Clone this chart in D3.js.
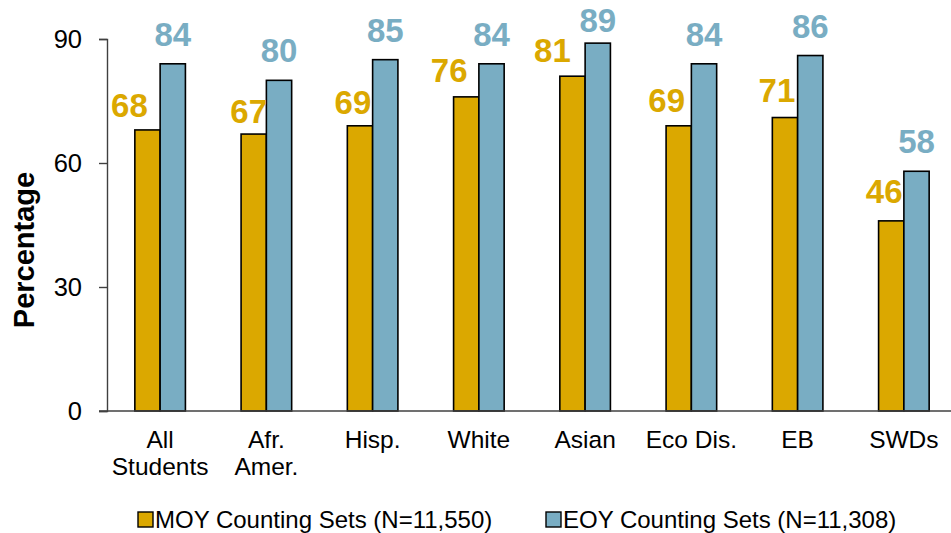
<!DOCTYPE html>
<html>
<head>
<meta charset="utf-8">
<script src="https://cdn.jsdelivr.net/npm/d3@7"></script>
<style>
  html, body { margin: 0; padding: 0; background: #fff; }
  svg { display: block; font-family: "Liberation Sans", Arial, sans-serif; }
</style>
</head>
<body>
<svg id="chart" width="951" height="533"></svg>
<script>
// ---- data ----
const categories = ["All Students", "Afr. Amer.", "Hisp.", "White", "Asian", "Eco Dis.", "EB", "SWDs"];
const categoryLines = [["All", "Students"], ["Afr.", "Amer."], ["Hisp."], ["White"], ["Asian"], ["Eco Dis."], ["EB"], ["SWDs"]];
const seriesNames = ["MOY Counting Sets (N=11,550)", "EOY Counting Sets (N=11,308)"];
const moyValues = [68, 67, 69, 76, 81, 69, 71, 46];
const eoyValues = [84, 80, 85, 84, 89, 84, 86, 58];
const yTicks = [0, 30, 60, 90];

// ---- layout (label nudges, pixels) ----
const moyLabelDx = [-18, -5, -7, -17, -20, -12, -8, -7];
const moyLabelGap = [13, 11, 12, 15, 14, 14, 16, 18];

const colors = ["#DBA800", "#79ADC3"];
const svg = d3.select("#chart");

const x = d3.scaleBand().domain(categories).range([107, 957]).paddingInner(0.524).paddingOuter(0.262);
const xs = d3.scaleBand().domain([0, 1]).range([0, x.bandwidth()]);
const y = d3.scaleLinear().domain([0, 90]).range([411, 39]);

const rows = categories.map((c, i) => ({ c, i, vals: [moyValues[i], eoyValues[i]] }));

// bars
const g = svg.append("g");
rows.forEach(r => {
  r.vals.forEach((v, s) => {
    g.append("rect")
      .attr("x", x(r.c) + xs(s))
      .attr("y", y(v))
      .attr("width", xs.bandwidth())
      .attr("height", y(0) - y(v))
      .attr("fill", colors[s])
      .attr("stroke", "#000")
      .attr("stroke-width", 1.6);
  });
});

// y axis
const yAxis = d3.axisLeft(y).tickValues(yTicks).tickSize(8).tickPadding(17).tickFormat(d3.format("d"));
const ya = svg.append("g").attr("transform", "translate(107,0)").call(yAxis);
ya.select(".domain").attr("stroke", "#404040").attr("stroke-width", 1.4);
ya.selectAll(".tick line").attr("stroke", "#404040").attr("stroke-width", 1.4);
ya.selectAll(".tick text").attr("font-size", 25.5).attr("fill", "#000").attr("dy", "0.35em")
  .attr("font-family", "Liberation Sans, Arial, sans-serif");

// x baseline
svg.append("line").attr("x1", 99).attr("x2", 951).attr("y1", y(0)).attr("y2", y(0))
  .attr("stroke", "#404040").attr("stroke-width", 1.4);

// category labels
rows.forEach(r => {
  const t = svg.append("text")
    .attr("x", x(r.c) + x.bandwidth() / 2)
    .attr("y", 448)
    .attr("text-anchor", "middle")
    .attr("font-size", 24.5)
    .attr("fill", "#000");
  categoryLines[r.i].forEach((line, k) => {
    t.append("tspan").attr("x", x(r.c) + x.bandwidth() / 2).attr("dy", k === 0 ? 0 : 27).text(line);
  });
});

// value labels
rows.forEach(r => {
  const cx0 = x(r.c) + xs(0) + xs.bandwidth() / 2;
  svg.append("text")
    .attr("x", cx0 + moyLabelDx[r.i])
    .attr("y", y(r.vals[0]) - moyLabelGap[r.i])
    .attr("text-anchor", "middle")
    .attr("font-size", 33).attr("font-weight", "bold")
    .attr("fill", colors[0])
    .text(r.vals[0]);
  const cx1 = x(r.c) + xs(1) + xs.bandwidth() / 2;
  svg.append("text")
    .attr("x", cx1)
    .attr("y", Math.max(y(r.vals[1]) - 18, 32))
    .attr("text-anchor", "middle")
    .attr("font-size", 33).attr("font-weight", "bold")
    .attr("fill", colors[1])
    .text(r.vals[1]);
});

// y title
svg.append("text")
  .attr("transform", "translate(34,250) rotate(-90)")
  .attr("text-anchor", "middle")
  .attr("font-size", 29).attr("font-weight", "bold")
  .attr("fill", "#000")
  .text("Percentage");

// legend
const legendX = [138, 546];
seriesNames.forEach((name, s) => {
  const lg = svg.append("g").attr("transform", `translate(${legendX[s]},0)`);
  lg.append("rect").attr("x", 0).attr("y", 512).attr("width", 15).attr("height", 15)
    .attr("fill", colors[s]).attr("stroke", "#000").attr("stroke-width", 1.4);
  lg.append("text").attr("x", 17).attr("y", 528).attr("font-size", 24).attr("fill", "#000").text(name);
});
</script>
</body>
</html>
